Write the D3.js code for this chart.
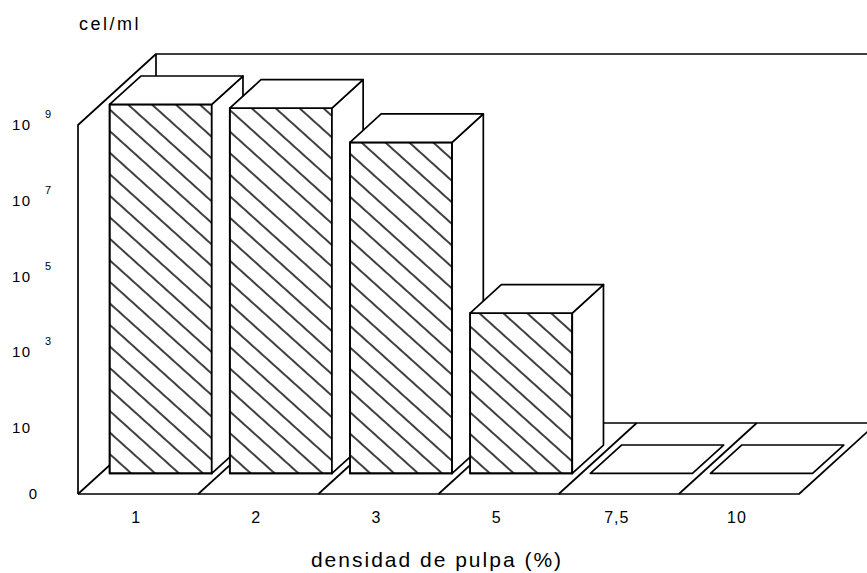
<!DOCTYPE html>
<html>
<head>
<meta charset="utf-8">
<script src="https://cdn.jsdelivr.net/npm/d3@7"></script>
<style>
  body { margin: 0; background: #fff; }
  text { font-family: "Liberation Sans", Arial, sans-serif; fill: #000; }
</style>
</head>
<body>
<div id="chart"></div>
<script>
// densidad de pulpa (%) and cel/ml
const densidad = ["1", "2", "3", "5", "7,5", "10"];
const celulas = [1.0e9, 8.0e8, 1.0e8, 3.1e3, 0, 0];
const yTicks = [0, 10, 1e3, 1e5, 1e7, 1e9];

main();

function main() {

    let width = 867, height = 573;
    let floorFront = 494;
    // depth direction of the 3d box (front plane -> back wall)
    let depth = {x: 78, y: -71};
    let barFront = 0.29, barBack = 0.69;

    let svg = d3.select("#chart")
        .append("svg")
        .attr("width", width)
        .attr("height", height);

    let x = d3.scaleBand().domain(densidad).range([78, 799]).padding(0);
    let xBar = d3.scaleBand().domain(densidad).range([78, 799])
        .paddingInner(0.15).paddingOuter(0.075);

    let yLog = d3.scaleLog().domain([10, 1e9]).range([428, 125]);
    function y(v) {
        return v > 0 ? yLog(v) : floorFront;
    }

    // hatch for the front faces
    svg.append("defs").append("pattern")
        .attr("id", "hatch")
        .attr("patternUnits", "userSpaceOnUse")
        .attr("width", 16)
        .attr("height", 16)
        .attr("patternTransform", "rotate(42)")
        .append("line")
        .attr("x1", 0).attr("y1", 8)
        .attr("x2", 16).attr("y2", 8)
        .attr("stroke", "#000")
        .attr("stroke-width", 1.5);

    let box = svg.append("g")
        .attr("fill", "none")
        .attr("stroke", "#000")
        .attr("stroke-width", 1.7)
        .attr("stroke-linejoin", "round");

    let backX = 78 + depth.x;
    let topY = y(1e9) + depth.y;
    let backFloor = floorFront + depth.y;

    // back wall + left wall
    box.append("path")
        .attr("d", `M${backX},${backFloor}V${topY}H${width + 40}`);
    box.append("path")
        .attr("d", `M78,${floorFront}V${y(1e9)}L${backX},${topY}`);

    // floor
    let xEnd = x.range()[1];
    box.append("path")
        .attr("d", `M78,${floorFront}H${xEnd}L${xEnd + depth.x},${backFloor}M${backX},${backFloor}H${width + 40}`);

    let bounds = densidad.map(d => x(d));
    box.selectAll(".cell")
        .data(bounds)
        .enter()
        .append("line")
        .attr("class", "cell")
        .attr("x1", d => d)
        .attr("y1", floorFront)
        .attr("x2", d => d + depth.x)
        .attr("y2", backFloor);

    // bars
    let fx = depth.x * barFront, fy = depth.y * barFront;
    let dx = depth.x * (barBack - barFront), dy = depth.y * (barBack - barFront);
    let bw = xBar.bandwidth();

    let bars = box.selectAll(".bar")
        .data(densidad.map((d, i) => ({cat: d, val: celulas[i]})))
        .enter()
        .append("g")
        .attr("class", "bar");

    bars.each(function (d) {
        let g = d3.select(this);
        let x0 = xBar(d.cat) + fx;
        let x1 = x0 + bw;
        let yb = floorFront + fy;
        let yt = y(d.val) + fy;
        if (yb - yt > 0) {
            g.append("rect")
                .attr("x", x0)
                .attr("y", yt)
                .attr("width", bw)
                .attr("height", yb - yt)
                .attr("fill", "#fff");
            g.append("rect")
                .attr("x", x0)
                .attr("y", yt)
                .attr("width", bw)
                .attr("height", yb - yt)
                .attr("fill", "url(#hatch)");
            g.append("path")
                .attr("fill", "#fff")
                .attr("d", `M${x1},${yb}V${yt}L${x1 + dx},${yt + dy}V${yb + dy}Z`);
        }
        g.append("path")
            .attr("fill", "#fff")
            .attr("d", `M${x0},${yt}H${x1}L${x1 + dx},${yt + dy}H${x0 + dx}Z`);
    });

    // y labels
    let yl = svg.append("g").attr("font-size", 15);
    yTicks.forEach(t => {
        if (t === 0) {
            yl.append("text")
                .attr("x", 33)
                .attr("y", y(t) + 5)
                .attr("text-anchor", "middle")
                .text("0");
            return;
        }
        let lab = yl.append("text")
            .attr("x", 12)
            .attr("y", y(t) + 5)
            .attr("letter-spacing", 1.5);
        lab.append("tspan").text("10");
        let e = Math.round(Math.log10(t));
        if (e > 1) {
            lab.append("tspan")
                .attr("x", 45)
                .attr("dy", -12)
                .attr("font-size", 11)
                .text(e);
        }
    });

    // x labels
    svg.append("g")
        .selectAll("text")
        .data(densidad)
        .enter()
        .append("text")
        .attr("x", d => x(d) + x.bandwidth() / 2 - 2)
        .attr("y", 523)
        .attr("text-anchor", "middle")
        .attr("font-size", 16)
        .attr("letter-spacing", 1)
        .text(d => d);

    svg.append("text")
        .attr("x", 79)
        .attr("y", 30)
        .attr("font-size", 18)
        .attr("letter-spacing", 2.5)
        .text("cel/ml");

    svg.append("text")
        .attr("x", 437)
        .attr("y", 567)
        .attr("text-anchor", "middle")
        .attr("font-size", 21)
        .attr("letter-spacing", 2)
        .text("densidad de pulpa (%)");
}
</script>
</body>
</html>
